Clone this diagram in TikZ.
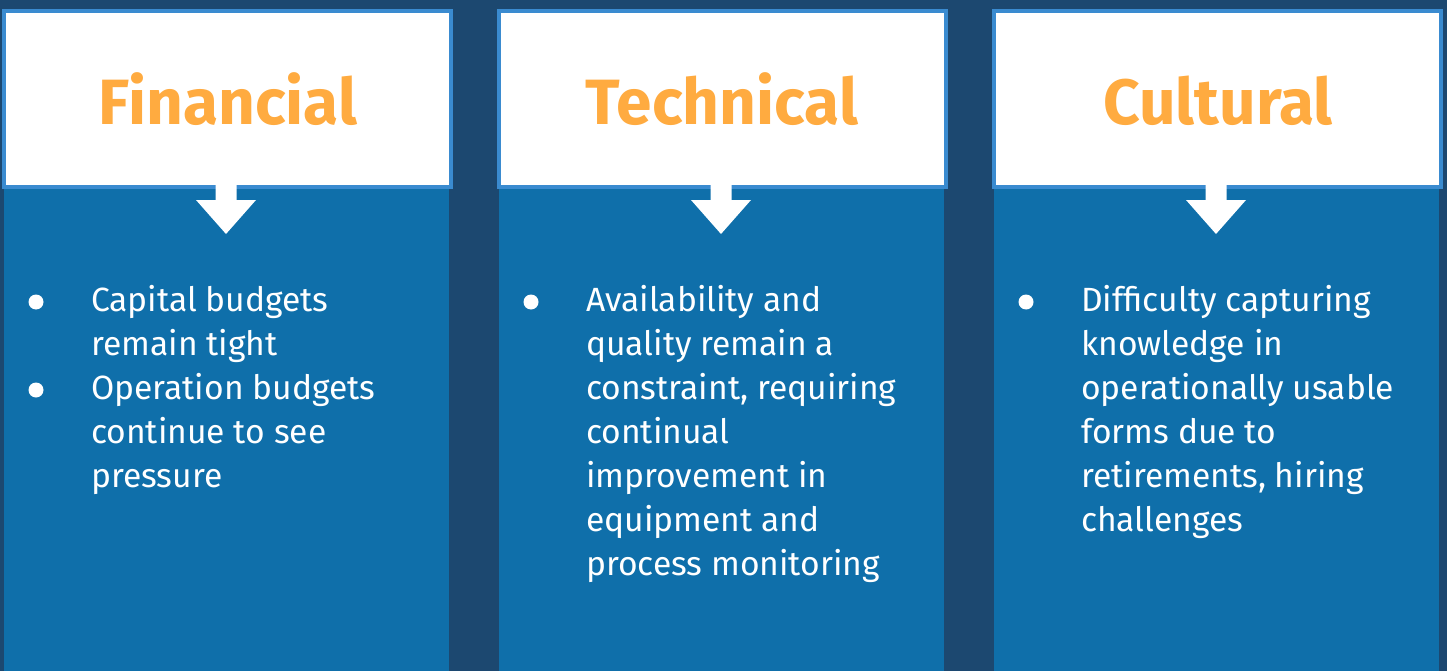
\documentclass[tikz,border=0pt]{standalone}
\usepackage{fontspec}
\setmainfont{Fira Sans}
\definecolor{bgnavy}{HTML}{1C4870}
\definecolor{colblue}{HTML}{0F6FAA}
\definecolor{edgeblue}{HTML}{3A8BD0}
\definecolor{titleorange}{HTML}{FFAB40}
\tikzset{
  colbox/.style={fill=colblue, draw=none},
  headbox/.style={fill=white, draw=edgeblue, line width=4pt},
  downarrow/.style={fill=white, draw=none},
  titletext/.style={font=\fontsize{64}{70}\selectfont\bfseries, text=titleorange, inner sep=0pt, anchor=base},
  bodytext/.style={font=\fontsize{33.6}{44}\selectfont, text=white, align=left, inner sep=0pt, anchor=north west},
  bulletdot/.style={circle, fill=white, minimum size=15pt, inner sep=0pt},
}
\begin{document}
\begin{tikzpicture}[x=1pt,y=-1pt]
\useasboundingbox (0,0) rectangle (1447,671);
\fill[bgnavy] (0,0) rectangle (1447,671);
% columns
\foreach \cx/\nm in {0/a,495/b,990/c}{
  \fill[colblue] (4+\cx,185) rectangle (449+\cx,671);
  \draw[headbox] (3.5+\cx,11) rectangle (451+\cx,187);
  \fill[white] (215.5+\cx,180) -- (236.5+\cx,180) -- (236.5+\cx,200) -- (256+\cx,200)
     -- (226+\cx,234) -- (196+\cx,200) -- (215.5+\cx,200) -- cycle;
}
\node[titletext] (t1) at (228,124.5) {Financial};
\node[titletext] (t2) at (722,124.5) {Technical};
\node[titletext] (t3) at (1218,124.5) {Cultural};

\node[bulletdot] (b1) at (36,302) {};
\node[bodytext] (x1) at (91,280.2) {\strut Capital budgets\\remain tight};
\node[bulletdot] (b2) at (36,390) {};
\node[bodytext] (x2) at (91,368.2) {\strut Operation budgets\\continue to see\\pressure};

\node[bulletdot] (b3) at (531,302) {};
\node[bodytext] (x3) at (586,280.2) {\strut Availability and\\quality remain a\\constraint, requiring\\continual\\improvement in\\equipment and\\process monitoring};

\node[bulletdot] (b4) at (1026,302) {};
\node[bodytext] (x4) at (1081,280.2) {\strut Difficulty capturing\\knowledge in\\operationally usable\\forms due to\\retirements, hiring\\challenges};
\end{tikzpicture}
\end{document}
